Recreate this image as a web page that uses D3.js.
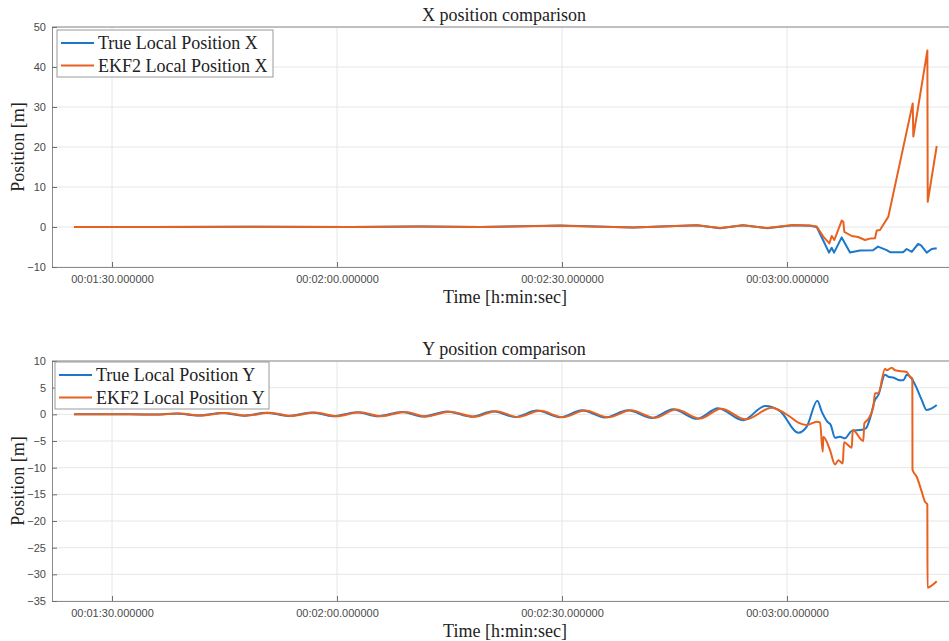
<!DOCTYPE html>
<html>
<head>
<meta charset="utf-8">
<script src="https://cdn.jsdelivr.net/npm/d3@7/dist/d3.min.js"></script>
<style>
  html, body { margin: 0; padding: 0; background: #ffffff; }
  svg { display: block; }
  .tick text { font-family: "Liberation Sans", Arial, sans-serif; font-size: 11px; fill: #4a4a4a; }
  .serif { font-family: "Liberation Serif", "Times New Roman", serif; fill: #222; }
</style>
</head>
<body>
<svg id="chart" width="949" height="641"></svg>
<script>
// ---- Time axis (seconds since start) ----
const timeTicks = [90, 120, 150, 180];
const timeDomain = [82, 201.73];

// ---- X position: true vs EKF2 ----
const xTrueT = [84.93, 95.07, 108.4, 121.73, 131.07, 139.07, 149.73, 159.47, 168, 171.07, 174.13, 177.33, 180.8, 183.07, 183.96,
  184.8, 185.6, 185.96, 186.27, 187.29, 188.4, 189.73, 191.47, 192.13, 193.29, 193.73, 195.47, 195.96, 196.63, 197.47, 197.87, 198.63, 199.29, 199.96];
const xTrueV = [0, 0, 0.05, 0, 0.1, 0, 0.35, -0.15, 0.45, -0.3, 0.45, -0.3, 0.45, 0.3, 0,
  -3.25, -6.4, -5.2, -6.4, -2.6, -6.4, -5.9, -5.8, -4.9, -5.8, -6.3, -6.3, -5.5, -6.2, -4.25, -4.6, -6.4, -5.5, -5.3];
const xEkfT = [84.93, 95.07, 108.4, 121.73, 131.07, 139.07, 149.73, 159.47, 168, 171.07, 174.13, 177.33, 180.8, 183.07, 183.96,
  184.84, 185.64, 185.96, 186.31, 187.29, 187.51, 187.64, 188.63, 189.47, 190.4, 191.07, 191.73, 191.96, 192.4, 193.51,
  196.76, 196.84, 198.71, 198.76, 199.96];
const xEkfV = [0, 0, 0.05, 0, 0.1, 0, 0.3, -0.1, 0.45, -0.25, 0.45, -0.25, 0.5, 0.4, 0.1,
  -2.4, -4.1, -2.25, -3.25, 1.6, 1.3, -1.2, -2.25, -2.5, -3.25, -2.9, -2.8, -0.9, -0.75, 2.6,
  30.9, 22.6, 44.1, 6.3, 20.25];

// ---- Y position: true vs EKF2 ----
const yTrueT = [84.93, 92.4, 95.73, 98.53, 101.47, 104.67, 107.47, 110.67, 113.47, 116.67, 119.47, 122.67, 125.47, 128.67, 131.47,
  134.67, 138, 140.8, 143.73, 146.67, 149.73, 152.67, 155.73, 158.8, 162, 164.8, 168, 170.8, 174.13, 177.07, 179.07,
  181.51, 182.63, 184.04, 184.63, 185.37, 185.83, 186.4, 187.07, 187.73, 188.63, 189.96, 190.53, 191.07, 191.73, 192.17,
  193.07, 193.51, 194.17, 195.07, 195.51, 195.96, 196.63, 197.29, 197.96, 198.63, 199.29, 199.96];
const yTrueV = [0, 0, -0.05, 0.15, -0.2, 0.25, -0.25, 0.3, -0.3, 0.35, -0.35, 0.4, -0.35, 0.45, -0.4,
  0.55, -0.45, 0.6, -0.5, 0.7, -0.55, 0.75, -0.6, 0.75, -0.7, 0.95, -0.85, 1.15, -1.1, 1.55, 0.6,
  -3.45, -2.3, 2.56, 0.5, -1.38, -2.0, -4.4, -4.2, -4.5, -3.1, -2.9, -2.6, -0.75, 2.7, 3.6,
  7.4, 7.06, 6.9, 6.4, 6.4, 7.4, 6.7, 4.9, 2.7, 0.8, 1.1, 1.75];
const yEkfT = [84.93, 92.4, 96.13, 98.93, 101.87, 105.07, 107.87, 111.07, 113.87, 117.07, 119.87, 123.07, 125.87, 129.07, 131.87,
  135.07, 138.4, 141.2, 144.13, 147.07, 150.13, 153.07, 156.13, 159.2, 162.4, 165.2, 168.4, 171.2, 174.53, 177.96,
  180.4, 181.51, 182.63, 183.96, 184.4, 184.76, 184.84, 185.73, 186.4, 186.84, 187.43, 187.6, 188.63, 188.76,
  190.17, 190.31, 190.84, 191.51, 191.73, 192.17, 193.07, 193.29, 193.96, 194.4, 195.96, 196.4, 196.71,
  196.73, 197.29, 197.96, 198.4, 198.71, 198.73, 199.29, 199.96];
const yEkfV = [0, 0, -0.05, 0.15, -0.2, 0.25, -0.25, 0.3, -0.3, 0.35, -0.35, 0.4, -0.35, 0.45, -0.4,
  0.5, -0.45, 0.6, -0.5, 0.65, -0.55, 0.7, -0.55, 0.75, -0.65, 0.9, -0.8, 1.05, -0.95, 1.25,
  -0.45, -1.57, -2.0, -1.38, -1.5, -7.0, -4.2, -6.7, -9.4, -8.6, -9.2, -5.25, -6.25, -2.95,
  -5.0, -1.7, -0.88, 1.43, 3.94, 3.94, 8.56, 8.25, 8.75, 8.25, 7.94, 7.0, 6.7,
  -10.4, -11.7, -14.5, -16.4, -16.9, -32.5, -32.1, -31.3];

const xTicksTop = [-10, 0, 10, 20, 30, 40, 50];
const yTicksBottom = [-35, -30, -25, -20, -15, -10, -5, 0, 5, 10];

const BLUE = "#1a77c9";
const ORANGE = "#e8611f";

const svg = d3.select("#chart");

function fmtTime(s) {
  const h = Math.floor(s / 3600), m = Math.floor((s % 3600) / 60), sec = s % 60;
  const p = n => String(n).padStart(2, "0");
  return `${p(h)}:${p(m)}:${p(sec)}.000000`;
}

function panel(opts) {
  const { top, bottom, left, right, yDomain, yTicks, title, series, legend, legendBox, curve } = opts;
  const g = svg.append("g");
  const x = d3.scaleLinear().domain(timeDomain).range([left, right]);
  const y = d3.scaleLinear().domain(yDomain).range([bottom, top]);

  // grid
  g.append("g").selectAll("line").data(yTicks).join("line")
    .attr("x1", left).attr("x2", right)
    .attr("y1", d => y(d)).attr("y2", d => y(d))
    .attr("stroke", "#e6e6e6").attr("stroke-width", 1);
  g.append("g").selectAll("line").data(timeTicks).join("line")
    .attr("x1", d => x(d)).attr("x2", d => x(d))
    .attr("y1", top).attr("y2", bottom)
    .attr("stroke", "#e6e6e6").attr("stroke-width", 1);

  // box top / right
  g.append("line").attr("x1", left).attr("x2", right).attr("y1", top).attr("y2", top)
    .attr("stroke", "#8c8c8c").attr("stroke-width", 1);
  g.append("line").attr("x1", right).attr("x2", right).attr("y1", top).attr("y2", bottom)
    .attr("stroke", "#8c8c8c").attr("stroke-width", 1);

  // axes
  const ax = g.append("g").attr("transform", `translate(0,${bottom})`)
    .call(d3.axisBottom(x).tickValues(timeTicks).tickFormat(fmtTime).tickSizeInner(-5).tickSizeOuter(0).tickPadding(8));
  const ay = g.append("g").attr("transform", `translate(${left},0)`)
    .call(d3.axisLeft(y).tickValues(yTicks).tickSizeInner(-5).tickSizeOuter(0).tickPadding(6));
  [ax, ay].forEach(a => {
    a.select(".domain").attr("stroke", "#8c8c8c");
    a.selectAll(".tick line").attr("stroke", "#6e6e6e");
  });

  // lines
  const line = d3.line().x(d => x(d[0])).y(d => y(d[1])).curve(curve);
  series.forEach(s => {
    const pts = d3.zip(s.t, s.v);
    g.append("path").datum(pts).attr("d", line)
      .attr("fill", "none").attr("stroke", s.color).attr("stroke-width", 2)
      .attr("stroke-linejoin", "round");
  });

  // title and labels
  g.append("text").attr("class", "serif").attr("x", 504).attr("y", top - 6)
    .attr("text-anchor", "middle").attr("font-size", 18).text(title);
  g.append("text").attr("class", "serif").attr("x", 505).attr("y", bottom + 36)
    .attr("text-anchor", "middle").attr("font-size", 18).text("Time [h:min:sec]");
  g.append("text").attr("class", "serif")
    .attr("transform", `translate(24,${(top + bottom) / 2}) rotate(-90)`)
    .attr("text-anchor", "middle").attr("font-size", 18).text("Position [m]");

  // legend
  const lg = g.append("g");
  lg.append("rect").attr("x", legendBox[0]).attr("y", legendBox[1])
    .attr("width", legendBox[2]).attr("height", legendBox[3])
    .attr("fill", "#ffffff").attr("stroke", "#9a9a9a").attr("stroke-width", 1);
  legend.forEach((l, i) => {
    const ly = legendBox[1] + 13 + i * 22.5;
    lg.append("line").attr("x1", legendBox[0] + 4).attr("x2", legendBox[0] + 37)
      .attr("y1", ly).attr("y2", ly).attr("stroke", l.color).attr("stroke-width", 2);
    lg.append("text").attr("class", "serif").attr("x", legendBox[0] + 41).attr("y", ly + 6)
      .attr("font-size", 18).text(l.label);
  });
}

panel({
  top: 27, bottom: 267, left: 52, right: 950,
  yDomain: [-10, 50], yTicks: xTicksTop,
  title: "X position comparison",
  curve: d3.curveLinear,
  series: [
    { t: xTrueT, v: xTrueV, color: BLUE },
    { t: xEkfT, v: xEkfV, color: ORANGE }
  ],
  legend: [
    { label: "True Local Position X", color: BLUE },
    { label: "EKF2 Local Position X", color: ORANGE }
  ],
  legendBox: [57, 30, 216, 47]
});

panel({
  top: 361, bottom: 601, left: 52, right: 950,
  yDomain: [-35, 10], yTicks: yTicksBottom,
  title: "Y position comparison",
  curve: d3.curveMonotoneX,
  series: [
    { t: yTrueT, v: yTrueV, color: BLUE },
    { t: yEkfT, v: yEkfV, color: ORANGE }
  ],
  legend: [
    { label: "True Local Position Y", color: BLUE },
    { label: "EKF2 Local Position Y", color: ORANGE }
  ],
  legendBox: [55, 362, 214, 47]
});
</script>
</body>
</html>
